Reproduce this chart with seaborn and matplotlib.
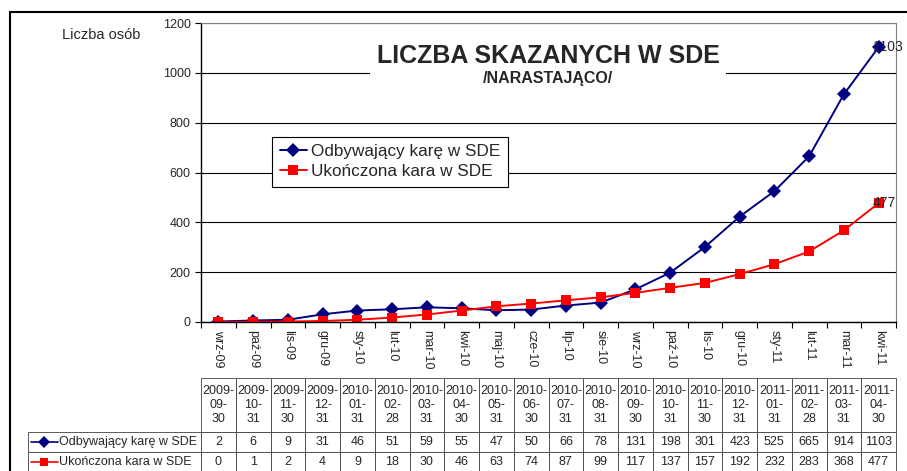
import pandas as pd
import seaborn as sns
import matplotlib.pyplot as plt
from matplotlib.patches import Rectangle
from matplotlib.lines import Line2D

months = ['wrz-09', 'paź-09', 'lis-09', 'gru-09', 'sty-10', 'lut-10', 'mar-10', 'kwi-10',
          'maj-10', 'cze-10', 'lip-10', 'sie-10', 'wrz-10', 'paź-10', 'lis-10', 'gru-10',
          'sty-11', 'lut-11', 'mar-11', 'kwi-11']
dates = ['2009-09-30', '2009-10-31', '2009-11-30', '2009-12-31', '2010-01-31', '2010-02-28',
         '2010-03-31', '2010-04-30', '2010-05-31', '2010-06-30', '2010-07-31', '2010-08-31',
         '2010-09-30', '2010-10-31', '2010-11-30', '2010-12-31', '2011-01-31', '2011-02-28',
         '2011-03-31', '2011-04-30']
serving = [2, 6, 9, 31, 46, 51, 59, 55, 47, 50, 66, 78, 131, 198, 301, 423, 525, 665, 914, 1103]
finished = [0, 1, 2, 4, 9, 18, 30, 46, 63, 74, 87, 99, 117, 137, 157, 192, 232, 283, 368, 477]
series_names = ['Odbywający karę w SDE', 'Ukończona kara w SDE']
colors = ['#000080', '#FF0000']
markers = ['D', 's']

sns.set_style('white')
plt.rcParams['font.family'] = ['Liberation Sans', 'DejaVu Sans']

df = pd.DataFrame({'Miesiąc': months * 2,
                   'Liczba': serving + finished,
                   'Seria': [series_names[0]] * 20 + [series_names[1]] * 20})

fig = plt.figure(figsize=(9.07, 4.71), dpi=100)
ax = fig.add_axes([201 / 907, 149 / 471, 695 / 907, 299 / 471])

sns.lineplot(data=df, x='Miesiąc', y='Liczba', hue='Seria', style='Seria',
             palette=colors, markers=markers, dashes=False, markersize=7,
             markeredgewidth=0, linewidth=1.4, ax=ax, sort=False)

ax.set_xlim(-0.5, 19.5)
ax.set_ylim(0, 1200)
ax.set_yticks(range(0, 1201, 200))
ax.tick_params(axis='y', labelsize=9, length=4, direction='out', left=True, color='black')
ax.set_xticks([i - 0.5 for i in range(21)])
ax.set_xticklabels([])
ax.set_xticks(range(20), minor=True)
ax.set_xticklabels(months, minor=True, rotation=270, fontsize=9, va='top', ha='center')
ax.tick_params(axis='x', which='major', length=4, direction='out', bottom=True, color='black')
ax.tick_params(axis='x', which='minor', length=0, pad=6)
ax.set_xlabel('')
ax.set_ylabel('')
ax.yaxis.grid(True, color='black', linewidth=0.8)
ax.set_axisbelow(True)
for s in ['left', 'bottom']:
    ax.spines[s].set_color('black')
    ax.spines[s].set_linewidth(1.0)
for s in ['top', 'right']:
    ax.spines[s].set_color('#808080')
    ax.spines[s].set_linewidth(0.8)

ax.annotate(str(serving[-1]), (19, serving[-1]), xytext=(-4, 0), textcoords='offset points',
            va='center', ha='left', fontsize=10, annotation_clip=False)
ax.annotate(str(finished[-1]), (19, finished[-1]), xytext=(-4, 0), textcoords='offset points',
            va='center', ha='left', fontsize=10, annotation_clip=False)

leg = ax.legend(loc='upper left', bbox_to_anchor=(0.102, 0.62), fontsize=12.3, frameon=True,
                fancybox=False, borderpad=0.45, labelspacing=0.3, handlelength=1.6,
                handletextpad=0.25, borderaxespad=0)
leg.get_frame().set_edgecolor('black')
leg.get_frame().set_linewidth(0.8)
leg.get_frame().set_alpha(1)

fig.text(548 / 907, 1 - 56 / 471, 'LICZBA SKAZANYCH W SDE', ha='center', va='center',
         fontsize=18, fontweight='bold',
         bbox=dict(facecolor='white', edgecolor='none', pad=5))
fig.text(548 / 907, 1 - 79 / 471, '/NARASTAJĄCO/', ha='center', va='center',
         fontsize=11.5, fontweight='bold',
         bbox=dict(facecolor='white', edgecolor='none', pad=2))
fig.text(140 / 907, 1 - 35 / 471, 'Liczba osób', ha='right', va='center', fontsize=10.5)

# outer chart border
fig.add_artist(Rectangle((10 / 907, -0.05), 1.0, 1 - 12 / 471 + 0.05, transform=fig.transFigure,
                         fill=False, edgecolor='black', linewidth=1.5))

# data table under the chart
tax = fig.add_axes([28 / 907, -1 / 471, 868 / 907, 94 / 471])
tax.axis('off')
header = [''] + ['{}-\n{}-\n{}'.format(*d.split('-')) for d in dates]
cells = [header,
         [series_names[0]] + [str(v) for v in serving],
         [series_names[1]] + [str(v) for v in finished]]
label_w = 173 / 868
col_w = 34.75 / 868
tbl = tax.table(cellText=cells, colWidths=[label_w] + [col_w] * 20, bbox=[0, 0, 1, 1],
                cellLoc='center')
tbl.auto_set_font_size(False)
tbl.set_fontsize(9)
heights = [54 / 94, 20 / 94, 20 / 94]
for (r, c), cell in tbl.get_celld().items():
    cell.set_height(heights[r])
    cell.set_linewidth(0.6)
    cell.set_edgecolor('#404040')
    cell.PAD = 0.02
    if c == 0:
        cell.get_text().set_ha('left')
        cell._loc = 'left'
        cell.PAD = 31 / 173
    if r == 0 and c == 0:
        cell.set_linewidth(0)

# legend keys inside the table's row labels
for i in range(2):
    yy = (40 / 94) - (10 / 94) - i * (20 / 94)
    tax.add_line(Line2D([0.003, 0.034], [yy, yy], color=colors[i], linewidth=1.2,
                        transform=tax.transAxes, clip_on=False))
    tax.add_line(Line2D([0.0185], [yy], color=colors[i], marker=markers[i], markersize=6,
                        markeredgewidth=0, transform=tax.transAxes, clip_on=False))

fig.savefig('out.png', dpi=100)
